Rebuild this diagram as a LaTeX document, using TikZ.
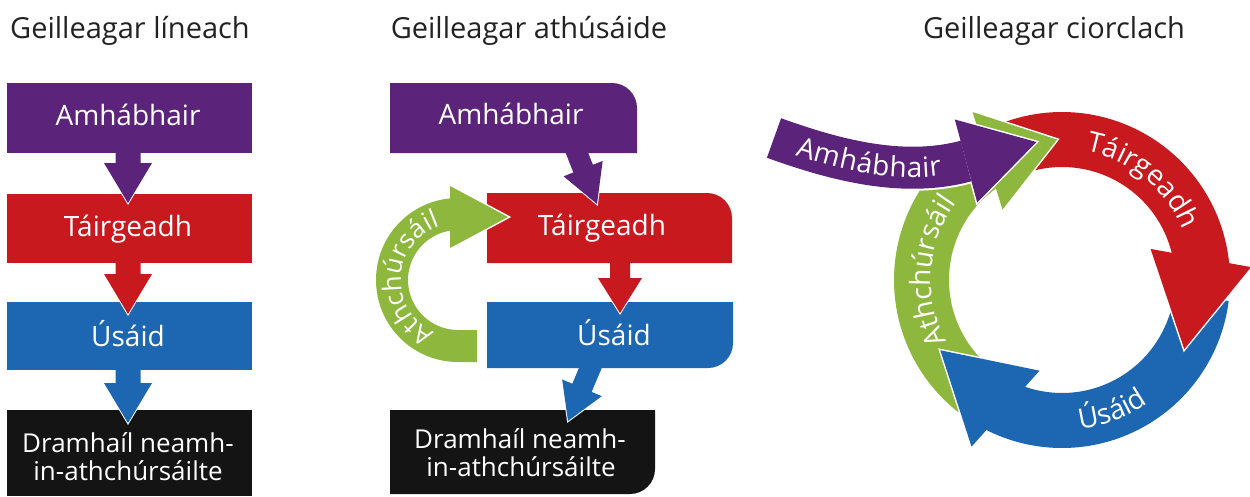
\documentclass[tikz,border=0pt]{standalone}
\usepackage{fontspec}
\setmainfont{Open Sans}
\usetikzlibrary{calc,decorations.text}
\definecolor{cpurple}{HTML}{5B237A}
\definecolor{cred}{HTML}{C8191F}
\definecolor{cblue}{HTML}{1D66B1}
\definecolor{cgreen}{HTML}{8DB83D}
\definecolor{cblack}{HTML}{141414}
\definecolor{ctitle}{HTML}{222222}
\newcommand\lblfont{\fontsize{28}{30}\selectfont}
\newcommand\smfont{\fontsize{26}{30}\selectfont}
\newcommand\ttlfont{\fontsize{29}{32}\selectfont}
% straight block arrow: colour, start, tip, shaft half width, head half width, head length
\newcommand\blockarrow[6]{%
  \path ($(#3)!#6!(#2)$) coordinate (hb);
  \draw[white, line width=2pt, line join=miter] ($(hb)!#5!90:(#3)$) -- (#3) -- ($(hb)!#5!-90:(#3)$) -- cycle;
  \fill[#1] ($(#2)!#4!90:(#3)$) -- ($(hb)!#4!90:(#3)$) -- ($(hb)!#5!90:(#3)$) -- (#3)
     -- ($(hb)!#5!-90:(#3)$) -- ($(hb)!#4!-90:(#3)$) -- ($(#2)!#4!-90:(#3)$) -- cycle;
}
% ring arrow: colour, start angle, head base angle, tip angle, band end angle
\newcommand\ringarrow[5]{%
  \path ($(C)+(#3:140.5)$) coordinate (rb) ($(C)+(#4:140.5)$) coordinate (rt);
  \draw[white, line width=3pt, line join=miter] ($(rb)!51pt!90:(rt)$) -- (rt) -- ($(rb)!51pt!-90:(rt)$) -- cycle;
  \draw[#1, line width=55pt] ($(C)+(#2:140.5)$) arc[start angle=#2, end angle=#5, radius=140.5];
  \fill[#1] ($(rb)!51pt!90:(rt)$) -- (rt) -- ($(rb)!51pt!-90:(rt)$) -- cycle;
}
\begin{document}
\begin{tikzpicture}[x=1pt,y=-1pt,
  lbl/.style={text=white, font=\lblfont, inner sep=0pt, anchor=base},
  blk/.style={text=white, font=\smfont, inner sep=0pt, anchor=base},
  ttl/.style={text=ctitle, font=\ttlfont, inner sep=0pt, anchor=base}]
\useasboundingbox (0,0) rectangle (1250,496);
\fill[white] (0,0) rectangle (1250,496);

% titles
\node[ttl] (t1) at (130,38) {Geilleagar líneach};
\node[ttl] (t2) at (529,38) {Geilleagar athúsáide};
\node[ttl] (t3) at (1054,38) {Geilleagar ciorclach};

% ---------- linear ----------
\fill[cpurple] (7,83) rectangle (252,153);
\fill[cred] (7,194) rectangle (252,263);
\fill[cblue] (7,302) rectangle (252,370);
\fill[cblack] (7,410) rectangle (252,496);
\coordinate (la1s) at (128,150); \coordinate (la1t) at (128,203);
\coordinate (la2s) at (128,260); \coordinate (la2t) at (128,314);
\coordinate (la3s) at (128,367); \coordinate (la3t) at (128,423);
\blockarrow{cpurple}{la1s}{la1t}{12.5pt}{24pt}{40pt}
\blockarrow{cred}{la2s}{la2t}{12.5pt}{24pt}{40pt}
\blockarrow{cblue}{la3s}{la3t}{12.5pt}{24pt}{40pt}
\node[lbl] (lA) at (128,125) {Amhábhair};
\node[lbl] (lT) at (128,236) {Táirgeadh};
\node[lbl] (lU) at (128,346) {Úsáid};
\node[blk] (lD1) at (128,452) {Dramhaíl neamh-};
\node[blk] (lD2) at (128,480) {in-athchúrsáilte};

% ---------- reuse ----------
\fill[cpurple] (390,83) -- (612,83) arc[start angle=-90, end angle=0, radius=25] -- (637,153) -- (390,153) -- cycle;
\fill[cred] (487,193) -- (707,193) arc[start angle=-90, end angle=0, radius=25] -- (732,263) -- (487,263) -- cycle;
\fill[cblue] (487,302) -- (733,302) -- (733,343) arc[start angle=0, end angle=90, radius=25] -- (487,368) -- cycle;
\fill[cblack] (390,410) -- (655,410) -- (655,469) arc[start angle=0, end angle=90, radius=25] -- (390,494) -- cycle;
\coordinate (ma1s) at (575,148); \coordinate (ma1t) at (597,204);
\coordinate (ma2s) at (620,258); \coordinate (ma2t) at (620,313);
\coordinate (ma3s) at (592,364); \coordinate (ma3t) at (568,421);
\blockarrow{cpurple}{ma1s}{ma1t}{10.5pt}{21pt}{38pt}
\blockarrow{cred}{ma2s}{ma2t}{10pt}{22pt}{35pt}
\blockarrow{cblue}{ma3s}{ma3t}{10.5pt}{21.5pt}{36pt}
% green recycling arc
\draw[white, line width=3pt, line join=miter] (450,186) -- (508,217) -- (450,248) -- cycle;
\fill[cgreen] (477,362) -- (458,362) arc[start angle=90, end angle=270, radius=82] -- (450,198)
   -- (450,186) -- (508,217) -- (450,248) -- (450,230) -- (458,230)
   arc[start angle=270, end angle=90, radius=50] -- (477,330) -- cycle;
\path[decorate, decoration={text along path, text align=center,
   text={|\smfont\color{white}|Athchúrsáil}}]
   (458,280) ++(100:57) arc[start angle=100, end angle=266, radius=57];
\node[lbl] (mA) at (511,124) {Amhábhair};
\node[lbl] (mT) at (602,235) {Táirgeadh};
\node[lbl] (mU) at (614,345) {Úsáid};
\node[blk] (mD1) at (520,448) {Dramhaíl neamh-};
\node[blk] (mD2) at (521,476) {in-athchúrsáilte};

% ---------- circular ----------
\coordinate (C) at (1062,280);
\ringarrow{cgreen}{128}{238}{268}{243}
\ringarrow{cblue}{7}{113.7}{150}{118.7}
\ringarrow{cred}{-112}{-9}{29.5}{-4}
\ringarrow{cgreen}{228}{238}{268}{243}
% purple input arrow
\coordinate (P0) at (774,138); \coordinate (P1) at (966,161);
\coordinate (Q1) at (835,160); \coordinate (Q2) at (903,178);
\coordinate (PT) at (1036.5,142);
\draw[white, line width=46pt] (P0) .. controls (Q1) and (Q2) .. (P1);
\draw[white, line width=3pt, line join=miter] ($(P1)!43pt!90:(PT)$) -- (PT) -- ($(P1)!43pt!-90:(PT)$) -- cycle;
\draw[cpurple, line width=42pt] (P0) .. controls (Q1) and (Q2) .. (P1);
\fill[cpurple] ($(P1)!43pt!90:(PT)$) -- (PT) -- ($(P1)!43pt!-90:(PT)$) -- cycle;
% texts
\path[decorate, decoration={text along path, text align=center, raise=-9.5pt,
   text={|\lblfont\color{white}|Amhábhair}}] (P0) .. controls (Q1) and (Q2) .. (P1);
\path[decorate, decoration={text along path, text align=center,
   text={|\lblfont\color{white}|Táirgeadh}}]
   ($(C)+(-100:131)$) arc[start angle=-100, end angle=-2, radius=131];
\path[decorate, decoration={text along path, text align=center,
   text={|\lblfont\color{white}|Úsáid}}]
   ($(C)+(100:150)$) arc[start angle=100, end angle=38, radius=150];
\path[decorate, decoration={text along path, text align=center,
   text={|\lblfont\color{white}|Athchúrsáil}}]
   ($(C)+(146:131)$) arc[start angle=146, end angle=222, radius=131];
\end{tikzpicture}
\end{document}
